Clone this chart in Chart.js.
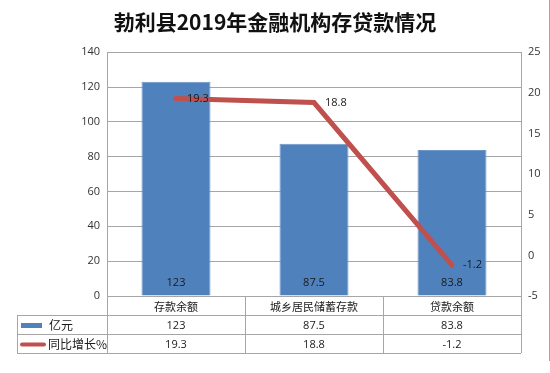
<!DOCTYPE html>
<html>
<head>
<meta charset="utf-8">
<script src="https://cdn.jsdelivr.net/npm/chart.js@4"></script>
<style>body{margin:0;background:#fff}</style>
</head>
<body>
<canvas id="chart" width="550" height="373"></canvas>
<script>
const categories = ['存款余额', '城乡居民储蓄存款', '贷款余额'];
const amounts = [123, 87.5, 83.8];
const growth = [19.3, 18.8, -1.2];
const amountName = '亿元';
const growthName = '同比增长%';
const titleText = '勃利县2019年金融机构存贷款情况';

const blue = '#4F81BD';
const red = '#C0504D';
const gridGrey = '#a6a6a6';
const cjkFont = '"Noto Sans CJK SC", sans-serif';
const numFont = '"Open Sans", "DejaVu Sans", sans-serif';

// value labels on the bars and next to the line points
const valueLabels = {
    id: 'valueLabels',
    afterDatasetsDraw(chart) {
        const ctx = chart.ctx;
        ctx.save();
        ctx.font = '11px ' + numFont;
        ctx.fillStyle = '#1a1a1a';
        ctx.textBaseline = 'middle';

        const barMeta = chart.getDatasetMeta(1);
        ctx.textAlign = 'center';
        barMeta.data.forEach((bar, i) => {
            ctx.fillText(String(amounts[i]), bar.x, chart.chartArea.bottom - 13);
        });

        const lineMeta = chart.getDatasetMeta(0);
        ctx.textAlign = 'left';
        lineMeta.data.forEach((pt, i) => {
            ctx.fillText(String(growth[i]), pt.x + 11, pt.y);
        });
        ctx.restore();
    }
};

// data table under the plot, with the legend keys in the first column
const dataTable = {
    id: 'dataTable',
    afterDraw(chart) {
        const ctx = chart.ctx;
        const area = chart.chartArea;
        const rowH = 19;
        const top = Math.round(area.bottom);
        const left = Math.round(area.left);
        const right = Math.round(area.right);
        const legendLeft = 17;
        const colW = (right - left) / categories.length;

        ctx.save();
        ctx.strokeStyle = gridGrey;
        ctx.lineWidth = 1;
        ctx.beginPath();
        ctx.moveTo(left, top + 0.5);
        ctx.lineTo(right, top + 0.5);
        for (let r = 1; r <= 3; r++) {
            ctx.moveTo(legendLeft, top + r * rowH + 0.5);
            ctx.lineTo(right, top + r * rowH + 0.5);
        }
        ctx.moveTo(legendLeft + 0.5, top + rowH);
        ctx.lineTo(legendLeft + 0.5, top + 3 * rowH);
        for (let c = 0; c <= categories.length; c++) {
            const xx = Math.round(left + c * colW) + 0.5;
            ctx.moveTo(xx, top);
            ctx.lineTo(xx, top + 3 * rowH);
        }
        // outer chart edge on the right
        ctx.moveTo(549.5, 0);
        ctx.lineTo(549.5, 361);
        ctx.stroke();

        ctx.fillStyle = '#1a1a1a';
        ctx.textBaseline = 'middle';
        ctx.textAlign = 'center';
        categories.forEach((cat, i) => {
            const cx = left + (i + 0.5) * colW;
            ctx.font = '11px ' + cjkFont;
            ctx.fillText(cat, cx, top + rowH * 0.5 + 1);
            ctx.font = '11px ' + numFont;
            ctx.fillText(String(amounts[i]), cx, top + rowH * 1.5 + 1);
            ctx.fillText(String(growth[i]), cx, top + rowH * 2.5 + 1);
        });

        // legend keys
        const y1 = top + rowH * 1.5 + 1;
        const y2 = top + rowH * 2.5 + 1;
        ctx.fillStyle = blue;
        ctx.fillRect(21, y1 - 2.5, 21, 5);
        ctx.strokeStyle = red;
        ctx.lineWidth = 4;
        ctx.lineCap = 'round';
        ctx.beginPath();
        ctx.moveTo(22, y2);
        ctx.lineTo(44, y2);
        ctx.stroke();

        ctx.fillStyle = '#1a1a1a';
        ctx.textAlign = 'left';
        ctx.font = '12px ' + cjkFont;
        ctx.fillText(amountName, 49, y1);
        ctx.fillText(growthName, 48, y2);
        ctx.restore();
    }
};

Chart.defaults.font.family = numFont;
Chart.defaults.font.size = 11;
Chart.defaults.color = '#333';

new Chart(document.getElementById('chart'), {
    data: {
        labels: categories,
        datasets: [
            {
                type: 'line',
                label: growthName,
                data: growth,
                yAxisID: 'y1',
                borderColor: red,
                borderWidth: 5,
                borderCapStyle: 'round',
                pointRadius: 0,
                tension: 0,
                order: 1
            },
            {
                type: 'bar',
                label: amountName,
                data: amounts,
                yAxisID: 'y',
                backgroundColor: blue,
                borderColor: '#6d96c9',
                borderWidth: 1,
                barPercentage: 0.5,
                categoryPercentage: 1,
                order: 2
            }
        ]
    },
    options: {
        responsive: false,
        animation: false,
        layout: {
            padding: { top: 0, right: 0, bottom: 77, left: 0 }
        },
        plugins: {
            legend: { display: false },
            tooltip: { enabled: false },
            title: {
                display: true,
                text: titleText,
                color: '#111',
                font: { family: cjkFont, size: 21, weight: 'bold' },
                padding: { top: 9, bottom: 18 }
            }
        },
        scales: {
            x: {
                display: false
            },
            y: {
                position: 'left',
                min: 0,
                max: 140,
                ticks: { stepSize: 20, padding: 7, color: '#333' },
                grid: { color: gridGrey, drawTicks: false },
                border: { color: gridGrey },
                afterFit(scale) { scale.width = 107; }
            },
            y1: {
                position: 'right',
                min: -5,
                max: 25,
                ticks: { stepSize: 5, padding: 7, color: '#333' },
                grid: { display: false, drawTicks: false },
                border: { color: gridGrey },
                afterFit(scale) { scale.width = 29; }
            }
        }
    },
    plugins: [valueLabels, dataTable]
});
</script>
</body>
</html>
